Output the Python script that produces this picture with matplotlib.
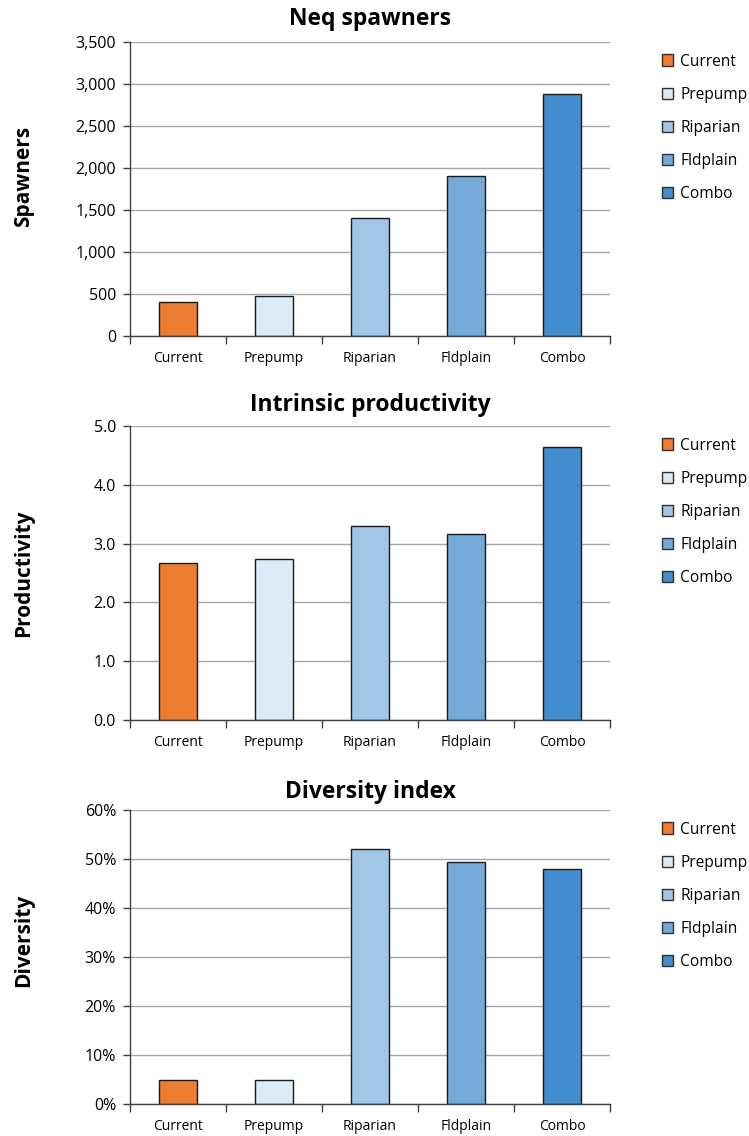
"""Three stacked bar panels comparing restoration scenarios -> out.png."""
import matplotlib
matplotlib.use("Agg")
import matplotlib.pyplot as plt
from matplotlib.patches import Patch
from matplotlib.ticker import FuncFormatter, FixedLocator

SCENARIOS = ["Current", "Prepump", "Riparian", "Fldplain", "Combo"]
COLORS = ["#ED7D31", "#DDEBF7", "#A2C6E8", "#74A9DA", "#438DD1"]

NEQ_SPAWNERS = [410, 480, 1400, 1900, 2880]
PRODUCTIVITY = [2.67, 2.74, 3.30, 3.16, 4.64]
DIVERSITY = [0.05, 0.05, 0.521, 0.494, 0.480]

W, H = 749, 1136
FONT = "Open Sans"


def panel(fig, top_px, values, title, ylabel, ymax, ystep, fmt,
          title_pad=10, label_y=0.5):
    ax = fig.add_axes([130 / W, 1 - (top_px + 294) / H, 480 / W, 294 / H])
    x = range(len(values))
    ax.bar(x, values, width=0.4, color=COLORS, edgecolor="#1a1a1a",
           linewidth=1.0, zorder=3)
    ax.set_xlim(-0.5, len(values) - 0.5)
    ax.set_ylim(0, ymax)

    # category boundaries carry the tick marks, centres carry the labels
    ax.xaxis.set_major_locator(FixedLocator([i - 0.5 for i in range(len(values) + 1)]))
    ax.xaxis.set_major_formatter(FuncFormatter(lambda v, p: ""))
    ax.xaxis.set_minor_locator(FixedLocator(list(x)))
    ax.set_xticklabels(SCENARIOS, minor=True, fontfamily=FONT, fontsize=10)
    ax.tick_params(axis="x", which="major", length=6, width=1, color="#404040",
                   direction="out")
    ax.tick_params(axis="x", which="minor", length=0, pad=11)

    n = int(round(ymax / ystep))
    ax.set_yticks([i * ystep for i in range(n + 1)])
    ax.yaxis.set_major_formatter(FuncFormatter(fmt))
    ax.tick_params(axis="y", length=5, width=1, color="#404040", pad=5,
                   labelsize=11.5)
    for lab in ax.get_yticklabels():
        lab.set_fontfamily(FONT)

    ax.grid(axis="y", color="#A6A6A6", linewidth=1.0, zorder=0)
    for side in ("top", "right"):
        ax.spines[side].set_visible(False)
    for side in ("left", "bottom"):
        ax.spines[side].set_color("#404040")
        ax.spines[side].set_linewidth(1.0)
    ax.spines["bottom"].set_zorder(4)

    ax.set_title(title, fontsize=16.5, fontweight="bold", fontfamily=FONT,
                 pad=title_pad)
    ax.set_ylabel(ylabel, fontsize=15, fontweight="bold", fontfamily=FONT)
    ax.yaxis.set_label_coords(-0.200, label_y)

    handles = [Patch(facecolor=c, edgecolor="#303030", linewidth=1.0, label=s)
               for c, s in zip(COLORS, SCENARIOS)]
    ax.legend(handles=handles, loc="upper left", bbox_to_anchor=(1.095, 0.982),
              frameon=False, prop={"family": FONT, "size": 11.2},
              handlelength=0.75, handleheight=0.75, handletextpad=0.42,
              labelspacing=1.1, borderaxespad=0)
    return ax


fig = plt.figure(figsize=(W / 100, H / 100), dpi=100)

panel(fig, 42, NEQ_SPAWNERS, "Neq spawners", "Spawners", 3500, 500,
      lambda v, p: f"{v:,.0f}", title_pad=12, label_y=0.544)
panel(fig, 426, PRODUCTIVITY, "Intrinsic productivity", "Productivity", 5.0, 1.0,
      lambda v, p: f"{v:.1f}", title_pad=11, label_y=0.5)
panel(fig, 810, DIVERSITY, "Diversity index", "Diversity", 0.6, 0.1,
      lambda v, p: f"{v * 100:.0f}%", title_pad=9, label_y=0.558)

fig.savefig("out.png", dpi=100)
